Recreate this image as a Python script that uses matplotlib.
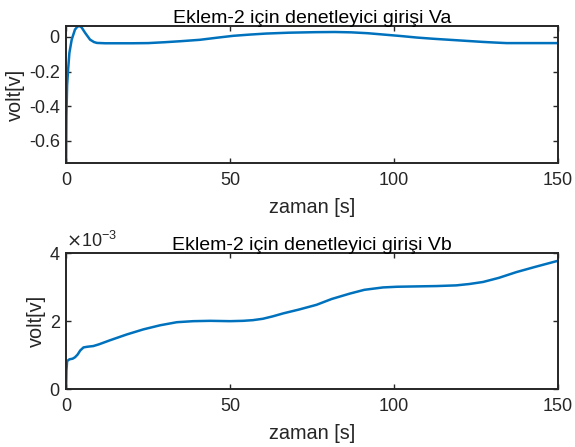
import numpy as np
import matplotlib
matplotlib.use("Agg")
import matplotlib.pyplot as plt
from matplotlib.ticker import FuncFormatter

# Font / style close to MATLAB defaults
plt.rcParams['font.family'] = ['Liberation Sans', 'DejaVu Sans']
plt.rcParams['axes.unicode_minus'] = False

# Controller input Va
t_a = [0, 0.1, 0.3, 0.6, 1.0, 1.7, 2.7, 3.4, 4.0, 4.7, 5.8, 7.3, 8.5, 9.4, 12, 16,
       20, 25, 30, 35, 40.8, 46, 51, 56, 61, 68, 76, 82, 87, 92, 97, 102, 107,
       112, 117, 122, 127, 131, 134.4, 140, 145, 150]
va = [-0.728, -0.45, -0.28, -0.19, -0.092, -0.016, 0.042, 0.058, 0.063, 0.055,
      0.023, -0.016, -0.030, -0.035, -0.037, -0.037, -0.037, -0.036, -0.031,
      -0.025, -0.017, -0.005, 0.006, 0.013, 0.019, 0.024, 0.027, 0.028, 0.026,
      0.021, 0.013, 0.005, -0.004, -0.011, -0.017, -0.023, -0.029, -0.033,
      -0.036, -0.036, -0.036, -0.036]

# Controller input Vb (units of 1e-3)
t_b = [0, 0.1, 0.3, 1.0, 2.0, 2.7, 3.5, 4.3, 5.3, 6.5, 8.3, 10, 13.4, 18.5, 23.6,
       28.7, 33.8, 38.8, 44, 50, 54, 57, 60, 63, 66.3, 71, 76.4, 81, 86.6, 91,
       96.7, 101, 106.9, 113, 119, 123, 127.2, 132, 137.4, 143, 149.6, 150]
vb_e3 = [0, 0.55, 0.83, 0.88, 0.90, 0.94, 1.02, 1.14, 1.23, 1.25, 1.27, 1.32,
         1.44, 1.61, 1.76, 1.88, 1.97, 2.00, 2.01, 2.00, 2.01, 2.03, 2.07, 2.14,
         2.23, 2.34, 2.48, 2.65, 2.81, 2.92, 2.99, 3.01, 3.02, 3.03, 3.05, 3.09,
         3.15, 3.27, 3.44, 3.59, 3.76, 3.77]
vb = np.array(vb_e3) * 1e-3

line_color = '#0072BD'
ax_color = '#262626'

fig = plt.figure(figsize=(5.75, 4.47), dpi=100)
ax1 = fig.add_axes([0.115, 0.635, 0.855, 0.307])
ax2 = fig.add_axes([0.115, 0.129, 0.855, 0.305])


def style(ax):
    for s in ax.spines.values():
        s.set_color(ax_color)
        s.set_linewidth(1.4)
    ax.tick_params(direction='in', length=3.5, width=1.0, colors=ax_color,
                   labelsize=13, top=True, right=True)
    ax.tick_params(axis='x', pad=6.5)
    ax.tick_params(axis='y', pad=4.5)
    ax.set_xlim(0, 150)
    ax.set_xticks([0, 50, 100, 150])
    ax.set_xlabel('zaman [s]', fontsize=14.3, color=ax_color, labelpad=6.5)
    ax.set_ylabel('volt[v]', fontsize=14.3, color=ax_color, labelpad=3)


ax1.plot(t_a, va, color=line_color, linewidth=1.8)
style(ax1)
ax1.set_ylim(-0.728, 0.063)
ax1.set_yticks([-0.6, -0.4, -0.2, 0])
ax1.set_yticklabels(['-0.6', '-0.4', '-0.2', '0'])
ax1.set_title('Eklem-2 için denetleyici girişi Va', fontsize=14, color='black', pad=2)

ax2.plot(t_b, vb, color=line_color, linewidth=1.8)
style(ax2)
ax2.set_ylim(0, 0.004)
ax2.set_yticks([0, 0.002, 0.004])
ax2.yaxis.set_major_formatter(FuncFormatter(lambda v, p: '%g' % (v * 1e3)))
ax2.set_title('Eklem-2 için denetleyici girişi Vb', fontsize=14, color='black', pad=2.5)
ax2.text(0.0, 1.015, r'$\times$10$^{\mathregular{-3}}$', transform=ax2.transAxes,
         fontsize=13, color=ax_color, ha='left', va='bottom')

fig.savefig('out.png', dpi=100)
